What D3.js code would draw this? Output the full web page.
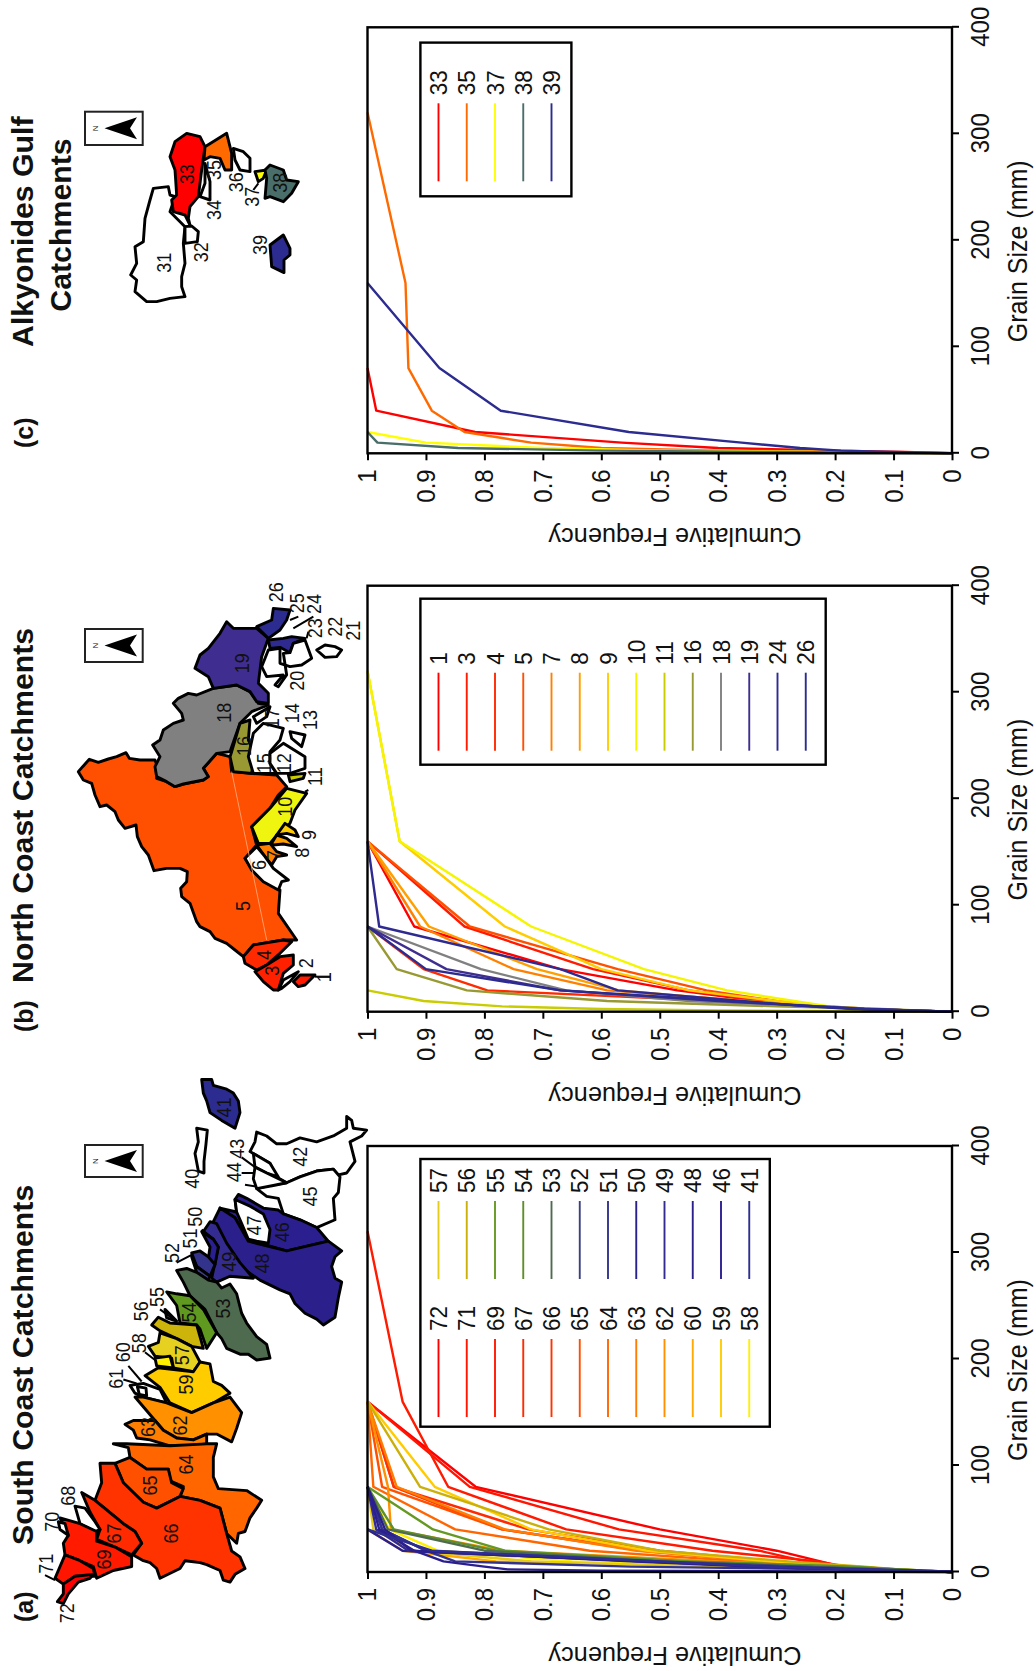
<!DOCTYPE html>
<html><head><meta charset="utf-8">
<style>html,body{margin:0;padding:0;background:#fff}svg{display:block}text{font-family:"Liberation Sans",Arial,sans-serif;fill:#111}</style>
<script src="https://cdn.jsdelivr.net/npm/d3@7/dist/d3.min.js"></script></head><body>
<svg id="c" width="1036" height="1671"></svg>
<script>
// grain size classes (mm) shared by every cumulative curve
const grainSizes=[0,1.25,2.5,5,10,20,40,80,160,320];
const grainTicks=[0,100,200,300,400];
const freqTicks=[0,.1,.2,.3,.4,.5,.6,.7,.8,.9,1];

// (a) South Coast
const idsA=[72,71,69,67,66,65,64,63,62,60,59,58,57,56,55,54,53,52,51,50,49,48,46,41];
const colorsA=["#ff0000","#ff1500","#ff1a00","#ff2a00","#ff3300","#ff5000","#ff6600","#ff7d00","#ff9000","#ffaa00","#ffcc00","#fff000","#e6cc1a","#ccb00a","#669922","#5f8f2a","#4f6b4f","#3d4080","#33338c","#2a1f90","#332b90","#2b1f8c","#2b1f90","#2e2e90"];
const freqA=[
[0,.07,.13,.19,.225,.30,.50,.815,1],
[0,.07,.14,.20,.25,.33,.57,.825,1],
[0,.06,.12,.18,.23,.41,.66,.862,.94,1],
[0,.06,.12,.18,.30,.50,.725,.955,1],
[0,.06,.12,.19,.33,.53,.77,.955,1],
[0,.06,.11,.18,.32,.52,.77,.975,1],
[0,.05,.10,.16,.36,.62,.85,.99,1],
[0,.06,.11,.18,.32,.54,.765,.95,1],
[0,.05,.10,.17,.40,.77,.96,.965,1],
[0,.04,.10,.25,.78,.94,1],
[0,.05,.10,.17,.31,.52,.72,.885,1],
[0,.05,.11,.35,.65,.88,.963,1],
[0,.05,.12,.40,.72,.92,.99,1],
[0,.05,.09,.15,.28,.50,.69,.91,1],
[0,.04,.09,.17,.45,.765,.888,1],
[0,.04,.09,.18,.47,.78,.955,1],
[0,.05,.11,.25,.50,.80,.965,1],
[0,.06,.12,.26,.50,.90,.975,1],
[0,.08,.2,.55,.85,.90,.975,1],
[0,.08,.17,.32,.53,.94,1],
[0,.07,.17,.32,.53,.93,.985,1],
[0,.08,.18,.34,.55,.925,.97,1],
[0,.60,.76,.80,.87,.92,.98,1],
[0,.07,.17,.32,.50,.89,1]];

// (b) North Coast
const idsB=[1,3,4,5,7,8,9,10,11,16,18,19,24,26];
const colorsB=["#ff0000","#ff1a00","#ff2a00","#ff5000","#ff8000","#ffa000","#ffcc00","#f5f500","#c8cc00","#999933","#808080","#3f2d8f","#2e2a90","#2b2b90"];
const freqB=[
[0,.08,.15,.22,.33,.47,.67,.92,1],
[0,.08,.15,.22,.32,.45,.614,.834,1],
[0,.07,.14,.21,.40,.795,.904,1],
[0,.08,.15,.22,.30,.42,.572,.825,1],
[0,.08,.15,.22,.35,.59,.75,.91,1],
[0,.08,.15,.23,.36,.57,.71,.895,1],
[0,.08,.15,.22,.30,.45,.60,.765,.945,1],
[0,.08,.14,.21,.27,.385,.527,.72,.945,1],
[0,.4,.6,.77,.904,1],
[0,.06,.12,.30,.59,.83,.95,1],
[0,.07,.13,.22,.45,.66,.806,1],
[0,.07,.15,.23,.40,.67,.865,1],
[0,.07,.17,.245,.36,.572,.67,.98,1],
[0,.07,.15,.23,.38,.67,.90,1]];

// (c) Alkyonides Gulf
const idsC=[33,35,37,38,39];
const colorsC=["#ff0000","#ff6a00","#ffff00","#4a6f6a","#2b2b90"];
const freqC=[
[0,.08,.2,.4,.565,.816,.985,1],
[0,.15,.4,.6,.72,.834,.89,.93,.935,1],
[0,.2,.5,.7,.9,1],
[0,.3,.6,.845,.983,1],
[0,.1,.19,.26,.36,.553,.772,.877,1]];

// catchment outlines, traced in map units
const mapA=[
{id:41,c:"#2b2b90",p:[[605,50],[635,50],[640,65],[680,75],[700,85],[715,105],[720,135],[705,175],[665,155],[630,135],[620,105],[610,85]]},
{id:40,c:"#fff",p:[[590,175],[622,180],[618,215],[612,260],[612,290],[595,285],[585,240],[595,210]]},
{id:42,c:"#fff",p:[[770,185],[800,195],[830,215],[860,215],[900,200],[950,210],[1000,195],[1040,175],[1040,145],[1055,155],[1060,175],[1100,180],[1085,195],[1050,210],[1065,260],[1040,290],[1015,295],[1000,280],[950,285],[900,300],[860,315],[830,300],[810,265],[770,245],[750,235],[765,210]]},
{id:45,c:"#fff",p:[[860,315],[900,300],[950,285],[1000,280],[1020,300],[1015,340],[1000,355],[1005,410],[950,430],[900,410],[850,395],[835,355],[800,350],[770,330],[820,320]]},
{id:43,c:"#fff",p:[[760,240],[810,265],[835,300],[800,290],[765,275]]},
{id:44,c:"#fff",p:[[765,275],[800,290],[860,315],[820,322],[770,330],[760,305]]},
{id:46,c:"#2b1f90",p:[[660,380],[705,405],[745,465],[800,475],[860,490],[985,465],[950,430],[900,410],[850,395],[835,385],[790,380],[740,355],[715,345],[705,358],[710,390]]},
{id:47,c:"#fff",p:[[705,358],[750,375],[790,395],[810,435],[805,470],[770,465],[745,460],[725,420],[710,390]]},
{id:48,c:"#2b1f8c",p:[[660,380],[705,405],[745,465],[860,490],[985,465],[1025,490],[1005,505],[995,530],[1005,560],[1025,570],[1015,610],[1005,660],[970,680],[950,665],[915,650],[885,625],[870,600],[840,590],[780,565],[720,530],[690,490],[650,440],[640,415]]},
{id:49,c:"#332b90",p:[[630,415],[650,420],[680,470],[720,520],[760,560],[690,555],[650,570],[635,560],[645,520],[655,480],[640,460],[610,440]]},
{id:50,c:"#2a1f90",p:[[605,440],[640,460],[655,480],[645,525],[625,510],[630,480]]},
{id:51,c:"#33338c",p:[[575,495],[600,490],[625,505],[645,525],[630,555],[590,530]]},
{id:52,c:"#3d4080",p:[[575,505],[590,530],[630,555],[625,565],[590,545]]},
{id:53,c:"#4f6b4f",p:[[530,540],[560,535],[590,545],[625,565],[650,570],[665,585],[690,575],[710,600],[725,650],[740,675],[770,710],[800,730],[810,765],[770,770],[745,755],[720,755],[680,740],[665,715],[650,700],[615,640],[570,605],[550,570]]},
{id:54,c:"#5f991f",p:[[500,595],[530,600],[570,605],[610,640],[650,700],[620,740],[600,690],[590,680],[540,675],[530,630]]},
{id:55,c:"#fff",p:[[495,640],[530,670],[500,662]]},
{id:56,c:"#cdb40a",p:[[455,680],[475,660],[510,675],[590,680],[610,740],[575,735],[530,715],[480,695]]},
{id:57,c:"#e6d020",p:[[445,735],[475,725],[480,700],[530,715],[575,735],[600,775],[580,800],[520,790],[515,765],[465,760]]},
{id:58,c:"#fff000",p:[[465,765],[510,760],[520,790],[470,785]]},
{id:59,c:"#ffcc00",p:[[435,810],[475,790],[580,800],[600,775],[630,780],[640,825],[665,835],[690,855],[640,880],[575,905],[510,880],[480,840]]},
{id:60,c:"#fff",p:[[390,835],[430,830],[480,845],[500,880],[430,865],[405,855]]},
{id:61,c:"#fff",p:[[412,838],[438,842],[440,862],[418,858]]},
{id:62,c:"#ff9000",p:[[405,865],[430,865],[500,880],[575,905],[640,880],[690,865],[725,905],[710,945],[695,980],[650,960],[620,960],[580,975],[530,970],[490,950],[465,925]]},
{id:63,c:"#ff7d00",p:[[375,935],[400,925],[465,925],[490,950],[530,970],[580,975],[620,960],[620,985],[570,990],[510,990],[450,975],[410,970],[400,950]]},
{id:64,c:"#ff6600",p:[[340,985],[380,985],[510,990],[620,985],[650,985],[640,1020],[640,1070],[655,1100],[740,1105],[785,1130],[770,1150],[750,1175],[735,1210],[715,1215],[710,1240],[680,1215],[660,1150],[600,1130],[540,1120],[550,1095],[510,1080],[505,1050],[440,1050],[390,1020],[385,995]]},
{id:65,c:"#ff5000",p:[[345,1035],[390,1020],[440,1050],[505,1050],[515,1085],[550,1100],[540,1120],[470,1150],[430,1135],[370,1085]]},
{id:66,c:"#ff3300",p:[[300,1035],[345,1035],[370,1085],[430,1135],[470,1150],[540,1120],[600,1130],[660,1150],[680,1215],[695,1260],[720,1275],[735,1305],[705,1320],[690,1340],[670,1335],[660,1310],[620,1295],[600,1290],[555,1285],[540,1305],[480,1330],[470,1305],[450,1290],[430,1285],[400,1270],[425,1240],[405,1210],[370,1190],[285,1130],[305,1085]]},
{id:67,c:"#ff2a00",p:[[245,1110],[285,1130],[370,1190],[405,1210],[425,1240],[395,1270],[345,1250],[290,1230],[300,1205],[270,1160]]},
{id:68,c:"#fff",p:[[225,1145],[255,1150],[285,1185],[300,1205],[285,1210],[240,1190]]},
{id:69,c:"#ff1a00",p:[[180,1175],[240,1190],[290,1210],[290,1235],[345,1250],[395,1275],[395,1300],[340,1310],[290,1330],[280,1300],[240,1285],[195,1270],[190,1240],[205,1220]]},
{id:70,c:"#fff",p:[[175,1185],[195,1190],[205,1220],[180,1205]]},
{id:71,c:"#ff1500",p:[[195,1270],[240,1285],[280,1305],[285,1325],[225,1325],[190,1345],[165,1330]]},
{id:72,c:"#ff0000",p:[[190,1345],[225,1325],[280,1320],[270,1330],[235,1340],[205,1370],[190,1395],[172,1390],[190,1370]]}];
const labelsA=[[41,672,122],[40,575,305],[43,710,228],[44,700,288],[42,900,248],[45,930,350],[47,760,425],[46,845,442],[50,585,402],[51,568,458],[52,515,495],[48,785,522],[49,685,518],[53,668,638],[54,565,648],[55,470,608],[56,422,645],[57,545,758],[58,415,727],[59,558,833],[60,368,750],[61,348,818],[62,538,938],[63,442,942],[64,558,1038],[65,450,1092],[66,512,1215],[67,340,1215],[68,203,1118],[69,310,1282],[70,155,1185],[71,138,1293],[72,200,1420]];
const leadersA=[[370,820,410,830],[385,785,425,825],[435,750,465,770],[480,640,520,665],[530,520,575,500],[605,435,640,460],[135,1322,165,1335],[725,250,765,275],[725,290,765,290],[735,320,770,325]];

const mapB=[
{id:5,c:"#ff4f00",p:[[235,635],[248,620],[268,598],[295,607],[325,597],[350,590],[378,578],[388,595],[420,600],[465,600],[480,640],[470,655],[500,665],[525,680],[550,672],[610,660],[625,650],[610,625],[650,580],[690,590],[695,635],[750,640],[830,645],[860,680],[835,705],[810,745],[755,800],[770,855],[735,895],[760,935],[840,990],[835,1060],[890,1140],[850,1140],[760,1155],[730,1190],[705,1170],[680,1150],[645,1135],[630,1115],[600,1100],[590,1085],[570,1030],[545,1010],[542,985],[560,965],[562,935],[540,925],[500,925],[462,932],[445,885],[425,860],[412,830],[408,795],[375,805],[355,780],[345,755],[320,735],[300,740],[285,705],[275,670],[250,660]]},
{id:18,c:"#808080",p:[[520,430],[535,415],[565,400],[590,405],[640,385],[710,375],[750,395],[775,430],[805,435],[755,455],[720,490],[690,575],[650,580],[610,625],[625,650],[610,660],[550,672],[525,680],[500,665],[470,650],[465,620],[480,590],[458,555],[480,540],[490,510],[520,490],[550,480],[545,460]]},
{id:19,c:"#3f2d8f",p:[[585,325],[600,285],[625,265],[660,220],[680,185],[700,205],[720,205],[770,205],[805,235],[785,290],[780,330],[775,370],[805,400],[805,430],[770,425],[750,395],[710,375],[640,385],[625,350]]},
{id:26,c:"#2b2b90",p:[[770,200],[815,180],[820,145],[870,150],[860,180],[840,210],[805,235]]},
{id:24,c:"#2e2a90",p:[[805,240],[850,235],[875,230],[915,235],[880,250],[870,278],[840,262],[810,265]]},
{id:20,c:"#fff",p:[[785,320],[805,270],[840,265],[840,310],[870,320],[905,315],[935,295],[915,240],[880,250],[870,278],[850,280],[860,345],[835,380],[825,375],[850,345],[800,350]]},
{id:21,c:"#fff",p:[[950,270],[975,255],[1005,260],[1025,270],[1010,290],[975,292]]},
{id:16,c:"#999933",p:[[695,575],[720,490],[750,480],[745,540],[765,580],[755,640],[700,635],[690,590]]},
{id:15,c:"#fff",p:[[760,520],[790,490],[850,505],[840,540],[810,575],[810,610],[830,640],[760,640],[745,590]]},
{id:14,c:"#fff",p:[[760,470],[810,440],[800,470],[770,490]]},
{id:12,c:"#fff",p:[[810,580],[850,550],[915,590],[915,625],[870,640],[830,640],[810,610]]},
{id:13,c:"#fff",p:[[870,515],[915,525],[905,560],[875,535]]},
{id:11,c:"#c8cc00",p:[[865,645],[915,640],[910,655],[870,665]]},
{id:10,c:"#f0f510",p:[[755,800],[810,745],[860,685],[920,700],[885,750],[870,790],[835,820],[810,850],[775,850]]},
{id:9,c:"#ffcc00",p:[[830,825],[855,790],[885,810],[895,830],[860,820]]},
{id:8,c:"#ffa000",p:[[815,850],[830,825],[860,835],[890,860],[850,852],[820,855]]},
{id:7,c:"#ff8000",p:[[770,855],[810,850],[830,875],[860,885],[830,890],[815,915],[795,890]]},
{id:6,c:"#fff",p:[[735,895],[770,860],[795,890],[820,925],[865,960],[845,965],[835,990],[790,965],[755,930]]},
{id:4,c:"#ff2a00",p:[[730,1190],[760,1155],[850,1140],[875,1145],[840,1180],[800,1215],[770,1230],[735,1210]]},
{id:3,c:"#ff2000",p:[[765,1235],[800,1215],[840,1190],[880,1185],[880,1215],[850,1240],[835,1290],[820,1290],[790,1265]]},
{id:2,c:"#fff",p:[[835,1290],[850,1260],[895,1235],[870,1265],[845,1285]]},
{id:1,c:"#ff1a00",p:[[880,1265],[900,1245],[945,1245],[915,1275],[895,1280]]}];
const labelsB=[[26,828,97],[25,890,130],[24,940,132],[23,945,205],[22,1003,200],[21,1057,212],[20,890,362],[19,725,310],[18,670,458],[17,815,475],[14,875,460],[13,930,480],[16,730,558],[15,790,610],[12,850,610],[11,945,650],[10,855,740],[9,925,825],[8,905,878],[7,820,885],[6,775,915],[5,727,1038],[4,792,1185],[3,815,1232],[2,918,1210],[1,970,1252]];
const leadersB=[[945,1250,990,1250],[870,180,895,170],[880,205,940,170],[920,235,925,215],[915,695,925,690]];

const mapC=[
{id:31,c:"#fff",p:[[460,295],[505,290],[510,315],[525,320],[510,365],[555,410],[550,460],[555,520],[545,560],[545,590],[555,620],[510,625],[470,635],[440,635],[405,605],[410,570],[392,555],[410,520],[405,470],[430,455],[435,385],[450,330]]},
{id:32,c:"#fff",p:[[555,410],[575,408],[595,425],[592,455],[555,460]]},
{id:33,c:"#ff0000",p:[[510,200],[525,155],[560,130],[600,140],[615,170],[605,240],[595,320],[570,350],[565,385],[570,405],[555,375],[520,365],[515,330],[530,315],[525,240]]},
{id:35,c:"#ff6a00",p:[[615,170],[680,130],[695,190],[695,240],[675,240],[660,205],[630,200],[612,210]]},
{id:34,c:"#fff",p:[[600,320],[615,280],[615,220],[630,275],[630,330]]},
{id:36,c:"#fff",p:[[700,175],[730,185],[750,205],[750,245],[720,240],[705,210]]},
{id:37,c:"#ffff00",p:[[765,245],[800,240],[790,265],[775,275]]},
{id:38,c:"#4a6f6a",p:[[795,240],[810,225],[850,240],[860,270],[895,275],[875,310],[850,335],[810,320],[795,325],[800,265]]},
{id:39,c:"#2b2b90",p:[[810,465],[850,435],[870,475],[870,495],[852,510],[852,548],[815,530]]}];
const labelsC=[[33,560,253],[35,640,240],[34,640,360],[36,708,277],[37,755,320],[38,840,278],[39,780,465],[32,602,487],[31,490,518]];
const leadersC=[[775,280,760,300]];

const svg=d3.select("#c");
const H=1671;
const TALL=1.1; // glyphs in the source are slightly taller than wide
// every chart is drawn in a frame turned a quarter turn anticlockwise
const frame=svg.append("g").attr("transform",`translate(0,${H}) rotate(-90)`);
const vFreq=d3.scaleLinear([0,1],[952,367.5]);

function panel(u0,ids,colors,freq,legend){
  const u=d3.scaleLinear([0,400],[u0,u0+426]);
  const g=frame.append("g");
  const line=d3.line().x(d=>u(d[0])).y(d=>vFreq(d[1]));
  g.selectAll("path.s").data(freq).join("path").attr("class","s")
    .attr("d",f=>line(f.map((v,i)=>[grainSizes[i],v])))
    .attr("fill","none").attr("stroke",(d,i)=>colors[i]).attr("stroke-width",2.4).attr("stroke-linejoin","round");
  g.append("rect").attr("x",u(0)).attr("y",vFreq(1)).attr("width",u(400)-u(0)).attr("height",vFreq(0)-vFreq(1))
    .attr("fill","none").attr("stroke","#000").attr("stroke-width",2.4);
  const ax=g.append("g").attr("transform",`translate(0,${vFreq(0)})`)
    .call(d3.axisBottom(u).tickValues(grainTicks).tickSize(7).tickPadding(9.5));
  const ay=g.append("g").attr("transform",`translate(${u(0)},0)`)
    .call(d3.axisLeft(vFreq).tickValues(freqTicks).tickSize(7).tickPadding(9).tickFormat(d3.format("~g")));
  [ax,ay].forEach(a=>{a.select(".domain").remove();a.selectAll("line").attr("stroke","#000").attr("stroke-width",2);
    a.selectAll("text").attr("font-size",24).attr("font-family",'"Liberation Sans",Arial,sans-serif').attr("fill","#111").attr("transform",`scale(1,${TALL})`);});
  g.append("text").attr("transform",`translate(${u0+202},1027) scale(1,${TALL})`).attr("text-anchor","middle").attr("font-size",25).text("Grain Size (mm)");
  g.append("text").attr("transform",`translate(${u0-75},675) rotate(-90)`).attr("text-anchor","middle").attr("font-size",25.3).text("Cumulative Frequency");
  // legend
  g.append("rect").attr("x",u0+legend.bx0).attr("y",420.4).attr("width",legend.bw).attr("height",legend.bh)
    .attr("fill","#fff").attr("stroke","#000").attr("stroke-width",2.4);
  ids.forEach((id,i)=>{
    const col=legend.col(i),row=legend.row(i);
    const v=438.5+row*28.25;
    g.append("line").attr("x1",u0+col).attr("x2",u0+col+78).attr("y1",v).attr("y2",v).attr("stroke",colors[i]).attr("stroke-width",1.9);
    g.append("text").attr("transform",`translate(${u0+col+86},${v+8.5}) scale(1,${TALL})`).attr("font-size",22.5).text(id);
  });
}
// u0 is the zero-grain position of each panel
panel(99,idsA,colorsA,freqA,{bx0:145.3,bw:267.7,bh:349.4,col:i=>i<12?155:293,row:i=>i<12?i:i-12});
panel(659.3,idsB,colorsB,freqB,{bx0:247,bw:166,bh:405.3,col:()=>261,row:i=>i});
panel(1217.7,idsC,colorsC,freqC,{bx0:257,bw:153.7,bh:151,col:()=>272,row:i=>i});
// titles
function rt(t,x,y,size){
  svg.append("text").attr("transform",`translate(${x},${y}) rotate(-90)`).attr("font-size",size).attr("font-weight","bold").text(t);
}
rt("South Coast Catchments",33,1545,30.3);rt("(a)",33,1622,25);
rt("North Coast Catchments",33,983,30.3);rt("(b)",33,1032,25);
rt("Alkyonides Gulf",33,347,30.3);rt("Catchments",70.7,311.7,30.3);rt("(c)",33,448,25);

function mapLayer(data,labels,leaders,yScale){
  const mx=d3.scaleLinear([0,1110],[0,370]);
  const g=svg.append("g");
  const ln=d3.line().x(d=>mx(d[0])).y(d=>yScale(d[1])).curve(d3.curveLinearClosed);
  g.selectAll("path").data(data).join("path").attr("d",d=>ln(d.p)).attr("fill",d=>d.c)
    .attr("stroke","#000").attr("stroke-width",2.9).attr("stroke-linejoin","round");
  g.selectAll("line").data(leaders).join("line").attr("x1",d=>mx(d[0])).attr("y1",d=>yScale(d[1])).attr("x2",d=>mx(d[2])).attr("y2",d=>yScale(d[3])).attr("stroke","#000").attr("stroke-width",2);
  g.selectAll("text").data(labels).join("text").attr("transform",d=>`translate(${mx(d[1])},${yScale(d[2])}) rotate(-90) scale(1,1.13)`)
    .attr("text-anchor","middle").attr("dy",".36em").attr("font-size",18).text(d=>d[0]);
  return {mx,g};
}
const ya=d3.scaleLinear([0,1568],[1060,1671]);
const yb=d3.scaleLinear([0,1500],[560,1060]);
const yc=d3.scaleLinear([0,1020],[90,430]);
mapLayer(mapA,labelsA,leadersA,ya);
const mb=mapLayer(mapB,labelsB,leadersB,yb);
mb.g.append("line").attr("x1",mb.mx(695)).attr("y1",yb(635)).attr("x2",mb.mx(800)).attr("y2",yb(1140)).attr("stroke","#ffb080").attr("stroke-width",.8);
mapLayer(mapC,labelsC,leadersC,yc);

// north arrows
[[1145,1177],[629,662],[111.7,145]].forEach(([y0,y1])=>{
  const g=svg.append("g");
  g.append("rect").attr("x",85).attr("y",y0).attr("width",57.7).attr("height",y1-y0).attr("fill","#fff").attr("stroke","#222").attr("stroke-width",2);
  const m=(y0+y1)/2;
  const ar=d3.line();
  g.append("path").attr("d",ar([[104.5,m],[137,m-11],[130,m],[137,m+11]])+"Z").attr("fill","#000");
  g.append("text").attr("transform",`translate(98,${m}) rotate(-90)`).attr("text-anchor","middle").attr("font-size",8).text("N");
});
</script></body></html>
